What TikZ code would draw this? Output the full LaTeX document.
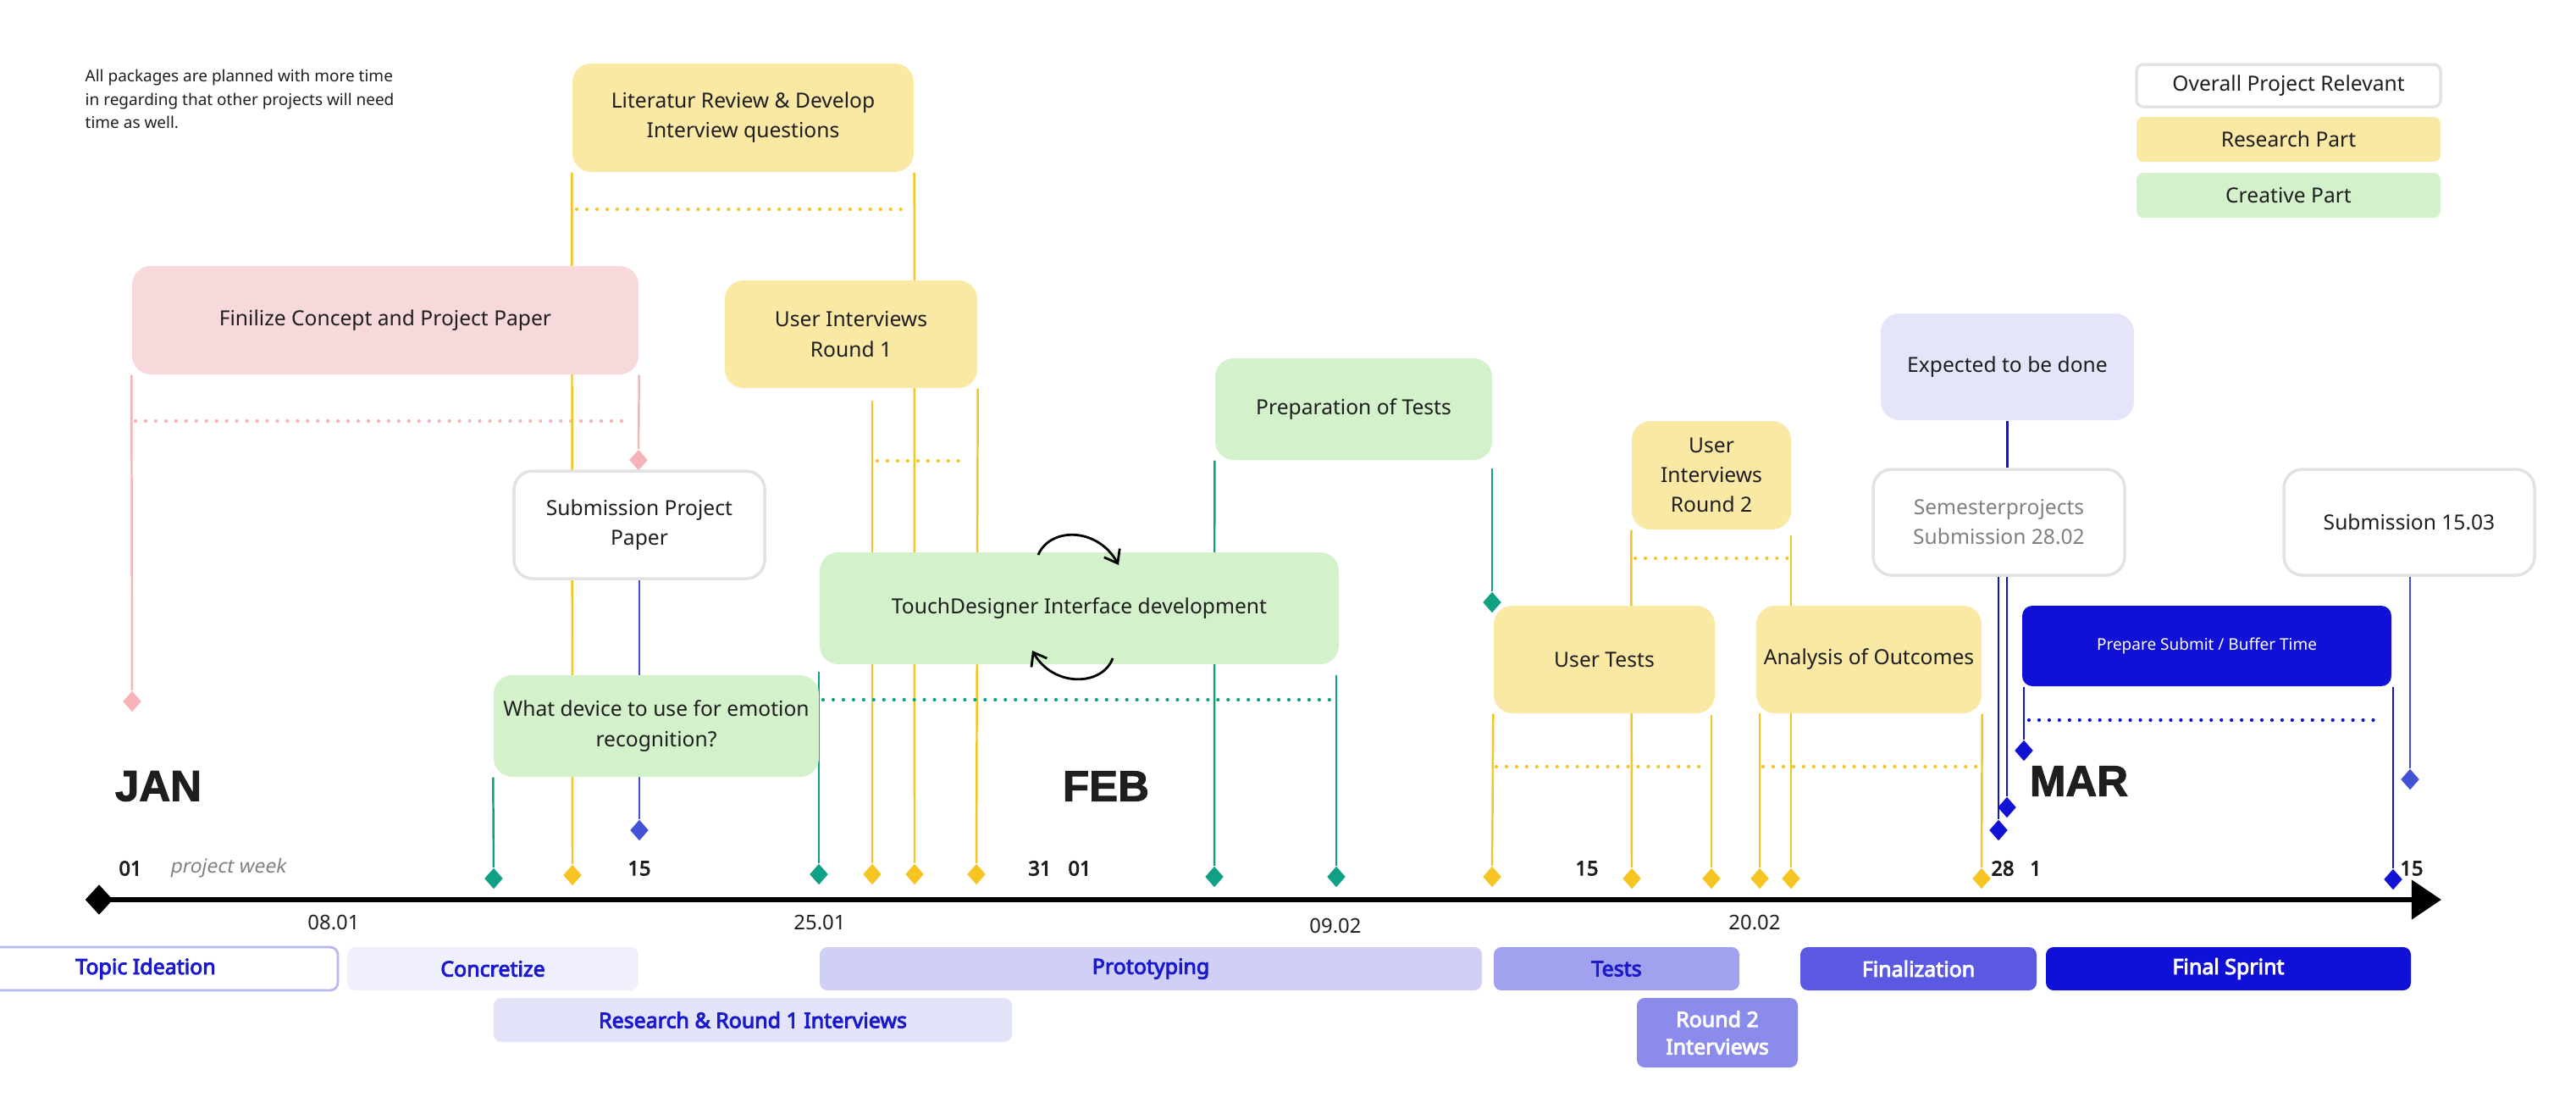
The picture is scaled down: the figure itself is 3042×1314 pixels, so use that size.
\documentclass[tikz,border=0pt]{standalone}
\usepackage{fontspec}
\setmainfont{Noto Sans}[BoldFont={Noto Sans}, BoldFeatures={FakeBold=3.6},
  ItalicFont={Noto Sans}, ItalicFeatures={FakeSlant=0.2}]
\newfontfamily\monthfont{Liberation Sans}[BoldFeatures={FakeBold=2}]
\usetikzlibrary{shapes.geometric,arrows.meta}

\definecolor{resfill}{HTML}{FAE8A5}
\definecolor{crefill}{HTML}{D3F1CB}
\definecolor{pinkfill}{HTML}{F8D9DB}
\definecolor{lavfill}{HTML}{E5E5FA}
\definecolor{boxline}{HTML}{E2E2E2}
\definecolor{gold}{HTML}{F6C523}
\definecolor{teal}{HTML}{10A084}
\definecolor{rose}{HTML}{F7B4B8}
\definecolor{deepblue}{HTML}{1212D4}
\definecolor{midblue}{HTML}{4351D4}
\definecolor{phtxt}{HTML}{1A1ACC}
\definecolor{phA}{HTML}{F0F0FD}
\definecolor{phB}{HTML}{E3E3F9}
\definecolor{phC}{HTML}{D0D0F7}
\definecolor{phD}{HTML}{A1A1EF}
\definecolor{phE}{HTML}{8B8BEB}
\definecolor{phF}{HTML}{5B58E2}
\definecolor{phG}{HTML}{1010D6}
\definecolor{phborder}{HTML}{B8B8EE}
\definecolor{txt}{HTML}{1E1E1E}

\newcommand\boxfont{\fontsize{7.0}{10}\selectfont}
\newcommand\notefont{\fontsize{5.4}{7.8}\selectfont}
\newcommand\phasefont{\fontsize{7.1}{9.2}\selectfont\bfseries}
\newcommand\tickfont{\fontsize{6.7}{8}\selectfont\bfseries}
\newcommand\datefont{\fontsize{6.8}{8}\selectfont}

\pgfdeclarelayer{bg}
\pgfsetlayers{bg,main}

\tikzset{
  sz/.style 2 args={minimum width=#1*0.01cm, minimum height=#2*0.01cm},
  box/.style={rounded corners=0.22cm, align=center, inner sep=0pt, font=\boxfont, text=txt},
  research/.style={box, fill=resfill},
  creative/.style={box, fill=crefill},
  overall/.style={box, fill=white, draw=boxline, line width=1pt},
  phase/.style={rounded corners=0.09cm, inner sep=0pt, align=center, font=\phasefont, text=phtxt},
  gem/.style={diamond, fill=#1, minimum width=0.22cm, minimum height=0.25cm, inner sep=0pt},
  tick/.style={font=\tickfont, text=txt},
  date/.style={font=\datefont, text=txt},
  month/.style={font=\fontsize{14.5}{16}\monthfont\bfseries, text=txt},
  yl/.style={draw=gold, line width=0.7pt},
  tl/.style={draw=teal, line width=0.7pt},
  pl/.style={draw=rose, line width=0.7pt},
  bl/.style={draw=deepblue, line width=0.7pt},
  ml/.style={draw=midblue, line width=0.7pt},
  dots/.style={draw=#1, line width=1.2pt, line cap=round, dash pattern=on 0pt off 3.4pt}
}

\begin{document}
\begin{tikzpicture}[x=0.01cm, y=-0.01cm]

  \useasboundingbox (0,0) rectangle (3042,1314);

  % note and legend
  \node[anchor=west, align=left, inner sep=0pt, font=\notefont, text=txt] (note) at (100,117)
    {All packages are planned with more time\\in regarding that other projects will need\\time as well.};
  \node[overall, sz={359}{50}, rounded corners=0.08cm] (lgoverall) at (2702.5,101) {Overall Project Relevant};
  \node[research, sz={359}{53}, rounded corners=0.08cm] (lgresearch) at (2702.5,164.5) {Research Part};
  \node[creative, sz={359}{53}, rounded corners=0.08cm] (lgcreative) at (2702.5,230.5) {Creative Part};

  % work packages
  \node[research, sz={403}{128}] (litrev)    at (877.5,139)   {Literatur Review \& Develop\\Interview questions};
  \node[box, fill=pinkfill, sz={598}{128}] (concept) at (455,378) {Finilize Concept and Project Paper};
  \node[research, sz={298}{127}] (intv1)     at (1005,394.5)  {User Interviews\\Round 1};
  \node[overall, sz={296}{127}] (subpaper)   at (755,619.5)   {Submission Project\\Paper};
  \node[creative, sz={384}{120}] (device)    at (775,857)     {What device to use for emotion\\recognition?};
  \node[creative, sz={613}{132}] (touch)     at (1274.5,718)  {TouchDesigner Interface development};
  \node[creative, sz={327}{120}] (preptests) at (1598.5,483)  {Preparation of Tests};
  \node[research, sz={261}{127}] (usertests) at (1894.5,778.5) {User Tests};
  \node[research, sz={188}{128}] (intv2)     at (2021,561)    {User\\Interviews\\Round 2};
  \node[research, sz={266}{127}] (analysis)  at (2207,778.5)  {Analysis of Outcomes};
  \node[box, fill=lavfill, sz={299}{126}] (expected) at (2370.5,433) {Expected to be done};
  \node[overall, sz={297}{125}, text=gray] (semester) at (2360.5,616.5) {Semesterprojects\\Submission 28.02};
  \node[overall, sz={296}{125}] (final)      at (2845,616.5)  {Submission 15.03};
  \node[box, fill=phG, sz={436}{95}, rounded corners=0.12cm, text=white,
        font=\fontsize{5.4}{7}\selectfont] (buffer) at (2606,762.5) {Prepare Submit / Buffer Time};

  % cycle arrows
  \draw[line width=0.8pt, -{Straight Barb[length=4pt,width=6pt]}]
    (1226,655) .. controls (1240,622) and (1296,622) .. (1321,667);
  \draw[line width=0.8pt, -{Straight Barb[length=4pt,width=6pt]}]
    (1314,777) .. controls (1302,810) and (1244,812) .. (1219,768);

  % timeline
  \node[gem=black, minimum width=0.33cm, minimum height=0.36cm] (start) at (117,1062) {};
  \coordinate (end) at (2883,1062);
  \draw[line width=1.7pt, -{Triangle[length=10pt,width=13pt]}] (start.center) -- (end);

  \node[month] (jan) at (187,928)  {JAN};
  \node[month] (feb) at (1306,928) {FEB};
  \node[month] (mar) at (2455,922) {MAR};

  \node[tick] (w01)  at (154,1025)  {01};
  \node[font=\fontsize{6.5}{8}\selectfont\itshape, text=gray] (pweek) at (269,1025) {project week};
  \node[tick] (w15)  at (755,1025)  {15};
  \node[tick] (w31)  at (1228,1025) {31};
  \node[tick] (f01)  at (1275,1025) {01};
  \node[tick] (f15)  at (1874,1025) {15};
  \node[tick] (f28)  at (2365,1025) {28};
  \node[tick] (m01)  at (2404,1025) {1};
  \node[tick] (m15)  at (2848,1025) {15};

  \node[date] (d0801) at (394,1089)  {08.01};
  \node[date] (d2501) at (968,1089)  {25.01};
  \node[date] (d0902) at (1577,1093) {09.02};
  \node[date] (d2002) at (2072,1089) {20.02};

  % phases
  \node[phase, fill=white, draw=phborder, line width=0.8pt, sz={454}{51}] (ideation) at (172,1143.5) {Topic Ideation};
  \node[phase, fill=phA, sz={344}{51}] (concretize) at (582,1143.5)   {Concretize};
  \node[phase, fill=phB, sz={612}{52}] (round1)     at (889,1204)     {Research \& Round 1 Interviews};
  \node[phase, fill=phC, sz={782}{51}] (proto)      at (1359,1143.5)  {Prototyping};
  \node[phase, fill=phD, sz={290}{51}] (tests)      at (1909,1143.5)  {Tests};
  \node[phase, fill=phE, sz={190}{82}, text=white] (round2) at (2028,1219) {Round 2\\Interviews};
  \node[phase, fill=phF, sz={279}{51}, text=white] (finalize) at (2265.5,1143.5) {Finalization};
  \node[phase, fill=phG, sz={431}{51}, text=white] (sprint)   at (2631.5,1143.5) {Final Sprint};

  % milestones
  \node[gem=rose] (p1) at (156,828) {};
  \node[gem=rose] (p2) at (754,543) {};
  \node[gem=gold] (y1) at (676,1033) {};
  \node[gem=gold] (y2) at (1030,1032) {};
  \node[gem=gold] (y3) at (1080,1032) {};
  \node[gem=gold] (y4) at (1153,1032) {};
  \node[gem=gold] (y5) at (1762,1035) {};
  \node[gem=gold] (y6) at (1927,1037) {};
  \node[gem=gold] (y7) at (2021,1037) {};
  \node[gem=gold] (y8) at (2078,1037) {};
  \node[gem=gold] (y9) at (2115,1037) {};
  \node[gem=gold] (y10) at (2340,1037) {};
  \node[gem=teal] (t1) at (583,1037) {};
  \node[gem=teal] (t2) at (967,1032) {};
  \node[gem=teal] (t3) at (1434,1035) {};
  \node[gem=teal] (t4) at (1578,1035) {};
  \node[gem=teal] (t5) at (1762,711) {};
  \node[gem=midblue] (b1) at (755,980) {};
  \node[gem=deepblue] (b2) at (2390,886) {};
  \node[gem=deepblue] (b3) at (2370,953) {};
  \node[gem=deepblue] (b4) at (2360,980) {};
  \node[gem=deepblue] (b5) at (2826,1038) {};
  \node[gem=midblue] (b6) at (2846,920) {};

  \begin{pgfonlayer}{bg}
    % concept paper
    \draw[pl] (concept.south west) -- (p1);
    \draw[pl] (concept.south east) -- (p2);
    \draw[dots=rose] (160,497) -- (737,497);
    \draw[ml] (subpaper.south) -- (b1);
    % research round 1
    \draw[yl] (litrev.south west) -- (y1);
    \draw[yl] (litrev.south east) -- (y3);
    \draw[dots=gold] (681,247) -- (1067,247);
    \draw[yl] (1030,473) -- (y2);
    \draw[yl] (intv1.south east) -- (y4);
    \draw[dots=gold] (1036,544) -- (1142,544);
    % prototyping
    \draw[tl] (device.south west) -- (t1);
    \draw[tl] (967,793) -- (t2);
    \draw[dots=teal] (972,826) -- (1574,826);
    \draw[tl] (1578,797) -- (t4);
    \draw[tl] (preptests.south west) -- (t3);
    \draw[tl] (1762,553) -- (t5);
    % tests
    \draw[yl] (usertests.south west) -- (y5);
    \draw[yl] (intv2.south west) -- (y6);
    \draw[yl] (2115,632) -- (y9);
    \draw[dots=gold] (1931,659) -- (2111,659);
    \draw[yl] (2021,844) -- (y7);
    \draw[yl] (2078,842) -- (y8);
    \draw[yl] (analysis.south east) -- (y10);
    \draw[dots=gold] (1767,905) -- (2016,905);
    \draw[dots=gold] (2082,905) -- (2334,905);
    % finalization
    \draw[bl] (expected.south) -- (semester.north -| expected.south);
    \draw[bl] (semester.south -| b3) -- (b3);
    \draw[bl] (semester.south -| b4) -- (b4);
    \draw[bl] (buffer.south west -| b2) -- (b2);
    \draw[bl] (buffer.south east -| b5) -- (b5);
    \draw[dots=deepblue] (2396,850) -- (2813,850);
    \draw[ml] (final.south -| b6) -- (b6);
  \end{pgfonlayer}
\end{tikzpicture}
\end{document}
